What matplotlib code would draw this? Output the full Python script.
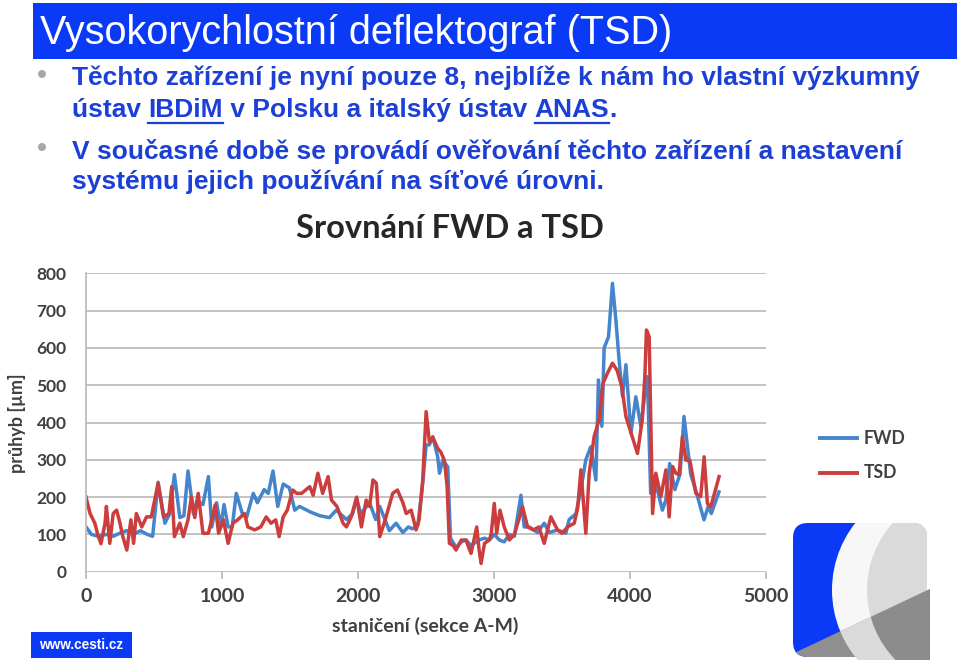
import matplotlib
matplotlib.use("Agg")
import matplotlib.pyplot as plt
from matplotlib.patches import Rectangle, FancyBboxPatch, Circle, Polygon

# ---------------- data ----------------
fwd_x = [0, 40, 90, 150, 200, 260, 300, 350, 400, 450, 490, 530, 580, 615, 650, 690, 720, 750, 790, 815,
         860, 900, 925, 960, 990, 1015, 1045, 1075, 1105, 1150, 1180, 1230, 1260, 1310, 1340, 1375, 1410,
         1450, 1495, 1535, 1570, 1650, 1720, 1790, 1840, 1915, 1960, 1990, 2020, 2085, 2130, 2160, 2230,
         2280, 2330, 2370, 2400, 2440, 2476, 2501, 2525, 2550, 2586, 2599, 2623, 2660, 2680, 2721, 2760,
         2794, 2831, 2890, 2930, 2966, 3002, 3039, 3075, 3113, 3150, 3198, 3222, 3259, 3320, 3369, 3406,
         3467, 3528, 3553, 3602, 3639, 3675, 3712, 3749, 3768, 3793, 3810, 3842, 3871, 3896, 3920, 3945,
         3970, 4007, 4043, 4080, 4117, 4128, 4152, 4177, 4238, 4263, 4292, 4330, 4368, 4397, 4446, 4483,
         4544, 4575, 4598, 4654]
fwd_y = [120, 100, 95, 100, 95, 105, 110, 100, 110, 100, 95, 240, 130, 155, 260, 145, 150, 270, 155, 190,
         180, 255, 120, 185, 120, 180, 120, 120, 210, 155, 145, 210, 185, 220, 210, 270, 175,
         235, 225, 165, 175, 160, 150, 145, 165, 140, 155, 195, 155, 185, 140, 175, 110,
         130, 105, 120, 115, 125, 237, 340, 340, 362, 308, 264, 299, 281, 90, 65, 80,
         85, 70, 85, 90, 85, 100, 85, 80, 100, 95, 205, 120, 120, 105, 130, 105,
         112, 103, 140, 155, 220, 300, 335, 246, 514, 390, 600, 630, 773, 675, 567, 470,
         555, 371, 469, 389, 500, 523, 210, 255, 165, 192, 290, 220, 262, 416, 262, 219,
         139, 175, 156, 214]

tsd_x = [0, 30, 65, 90, 110, 140, 150, 175, 200, 225, 250, 270, 300, 330, 350, 370, 410, 445, 480, 530,
         570, 610, 630, 650, 690, 715, 750, 775, 800, 825, 860, 900, 950, 975, 1010, 1045, 1080, 1115,
         1165, 1190, 1240, 1285, 1325, 1360, 1395, 1420, 1450, 1480, 1520, 1550, 1585, 1645, 1670, 1705,
         1740, 1780, 1805, 1845, 1890, 1915, 1950, 1990, 2025, 2060, 2085, 2110, 2135, 2160, 2200, 2255,
         2290, 2330, 2354, 2391, 2427, 2450, 2476, 2501, 2525, 2550, 2586, 2610, 2635, 2655, 2672, 2700,
         2721, 2760, 2794, 2831, 2873, 2890, 2905, 2930, 2966, 2980, 3002, 3020, 3044, 3075, 3113, 3150,
         3210, 3247, 3290, 3330, 3369, 3418, 3467, 3500, 3541, 3590, 3615, 3639, 3675, 3700, 3736, 3773,
         3802, 3834, 3871, 3905, 3940, 3970, 4018, 4055, 4091, 4110, 4121, 4141, 4166, 4190, 4227, 4264,
         4288, 4313, 4337, 4360, 4386, 4410, 4440, 4484, 4520, 4545, 4569, 4594, 4655]
tsd_y = [200, 156, 130, 95, 75, 130, 175, 76, 156, 165, 130, 95, 58, 139, 76, 156, 120, 147, 147, 237,
         147, 156, 228, 94, 130, 94, 139, 200, 145, 210, 103, 103, 179, 103, 139, 76, 130, 139,
         156, 120, 112, 120, 147, 130, 139, 94, 147, 165, 219, 210, 210, 228, 205, 264,
         210, 255, 192, 175, 130, 120, 147, 200, 120, 192, 175, 246, 237, 94, 139, 210,
         219, 185, 156, 165, 112, 140, 246, 429, 348, 360, 331, 320, 299, 230, 76, 70,
         58, 85, 85, 49, 120, 60, 22, 76, 85, 103, 183, 103, 165, 120, 85, 100,
         174, 120, 112, 120, 76, 147, 112, 103, 120, 130, 170, 273, 103, 264, 362, 407,
         505, 532, 559, 540, 496, 416, 360, 317, 410, 530, 648, 630, 156, 264, 201, 273,
         147, 282, 264, 260, 362, 299, 299, 210, 201, 308, 183, 174, 255]

y_ticks = [0, 100, 200, 300, 400, 500, 600, 700, 800]
x_ticks = [0, 1000, 2000, 3000, 4000, 5000]

title_text = "Vysokorychlostní deflektograf (TSD)"
chart_title = "Srovnání FWD a TSD"
x_label = "staničení (sekce A-M)"
y_label = "průhyb [µm]"

# ---------------- figure ----------------
W, H = 960, 669
fig = plt.figure(figsize=(W / 100, H / 100), dpi=100)
fig.patch.set_facecolor("white")

ov = fig.add_axes([0, 0, 1, 1], zorder=0)
ov.set_xlim(0, W)
ov.set_ylim(H, 0)
ov.axis("off")

SLIDE_BLUE = "#0a3af5"
TEXT_BLUE = "#1c3fd6"

# title bar
ov.add_patch(Rectangle((33, 3), 924, 56, facecolor=SLIDE_BLUE, edgecolor="none"))
ov.text(40, 33, title_text, color="white", fontsize=28.5, family="Liberation Sans",
        va="center", ha="left")

# bullets
for by in (74, 147):
    ov.add_patch(Circle((42, by), 4, facecolor="#a8a8a8", edgecolor="none"))

fig.canvas.draw()
renderer = fig.canvas.get_renderer()
inv = ov.transData.inverted()

def seq_text(x, y, parts, size=19.0):
    for txt, ul in parts:
        t = ov.text(x, y, txt, color=TEXT_BLUE, fontsize=size, family="Liberation Sans",
                    weight="bold", va="center", ha="left")
        bb = t.get_window_extent(renderer=renderer)
        (x0, _), (x1, _) = inv.transform([[bb.x0, bb.y0], [bb.x1, bb.y1]])
        if ul:
            ov.plot([x0, x1], [y + 13, y + 13], color=TEXT_BLUE, lw=1.6)
        x = x1

seq_text(72, 78, [("Těchto zařízení je nyní pouze 8, nejblíže k nám ho vlastní výzkumný", False)])
seq_text(72, 110, [("ústav ", False), ("IBDiM", True), (" v Polsku a italský ústav ", False),
                   ("ANAS", True), (".", False)])
seq_text(72, 152, [("V současné době se provádí ověřování těchto zařízení a nastavení", False)])
seq_text(72, 182, [("systému jejich používání na síťové úrovni.", False)])

# chart texts
CH = "#262626"
ov.text(450, 229, chart_title, color=CH, fontsize=23.5, family="Lato", weight="bold",
        ha="center", va="center")
ov.text(425, 626, x_label, color="#404040", fontsize=14, family="Lato", weight="bold",
        ha="center", va="center")
ov.text(17, 423, y_label, color="#404040", fontsize=13, family="Lato", weight="bold",
        ha="center", va="center", rotation=90)

# ---------------- main chart ----------------
BLUE = "#4585cc"
RED = "#cc3d3d"
ax = fig.add_axes([86 / W, 1 - 571.7 / H, (766 - 86) / W, (571.7 - 273.3) / H], zorder=2)
ax.patch.set_alpha(0)
ax.plot(fwd_x, fwd_y, color=BLUE, lw=2.5, label="FWD", solid_joinstyle="round")
ax.plot(tsd_x, tsd_y, color=RED, lw=2.5, label="TSD", solid_joinstyle="round")
ax.set_xlim(0, 5000)
ax.set_ylim(0, 800)
ax.set_yticks(y_ticks)
ax.set_xticks(x_ticks)
ax.grid(axis="y", color="#bdbdbd", lw=1.3)
ax.set_axisbelow(True)
for s in ("top", "right", "bottom"):
    ax.spines[s].set_visible(False)
ax.spines["left"].set_color("#bdbdbd")
ax.spines["left"].set_linewidth(1.3)
ax.tick_params(axis="y", length=0, pad=14, labelsize=12.5, labelcolor="#404040")
ax.tick_params(axis="x", length=5, width=1.3, color="#bdbdbd", pad=7, labelsize=14,
               labelcolor="#404040")
for lab in ax.get_xticklabels() + ax.get_yticklabels():
    lab.set_family("Lato")
    lab.set_weight("bold")

# legend (manual placement in pixel space)
for yy, col, name in ((438, BLUE, "FWD"), (473, RED, "TSD")):
    ov.plot([820, 857], [yy, yy], color=col, lw=2.8)
    ov.text(864, yy, name, color="#404040", fontsize=12.7, family="Lato", weight="bold",
            va="center", ha="left")

# ---------------- footer ----------------
ov.add_patch(Rectangle((31, 632), 101, 26, facecolor=SLIDE_BLUE, edgecolor="none"))
ov.text(81.5, 645, "www.cesti.cz", color="white", fontsize=9.8, family="Liberation Sans",
        weight="bold", ha="center", va="center")

# logo
box = FancyBboxPatch((797, 527), 126, 126, boxstyle="round,pad=4,rounding_size=15",
                     facecolor="#f7f7f7", edgecolor="none")
ov.add_patch(box)
blue_part = Rectangle((790, 520), 140, 140, facecolor=SLIDE_BLUE, edgecolor="none")
ov.add_patch(blue_part); blue_part.set_clip_path(box)
white_c = Circle((940, 590), 108, facecolor="#f7f7f7", edgecolor="none")
ov.add_patch(white_c); white_c.set_clip_path(box)
gray_c = Circle((967, 590), 100, facecolor="#dadada", edgecolor="none")
ov.add_patch(gray_c); gray_c.set_clip_path(box)
low1 = Polygon([(790, 655), (930, 589), (930, 660), (790, 660)], closed=True,
               facecolor="#8f8f8f", edgecolor="none")
ov.add_patch(low1); low1.set_clip_path(box)
band = Circle((940, 590), 108, facecolor="none", edgecolor="none")
low2 = Polygon([(790, 655), (930, 589), (930, 660), (790, 660)], closed=True,
               facecolor="#dadada", edgecolor="none")
ov.add_patch(band)
ov.add_patch(low2); low2.set_clip_path(band)
low3 = Polygon([(790, 655), (930, 589), (930, 660), (790, 660)], closed=True,
               facecolor="#8c8c8c", edgecolor="none")
gray_c2 = Circle((967, 590), 100, facecolor="none", edgecolor="none")
ov.add_patch(gray_c2)
ov.add_patch(low3); low3.set_clip_path(gray_c2)

fig.savefig("out.png", dpi=100, facecolor="white")
